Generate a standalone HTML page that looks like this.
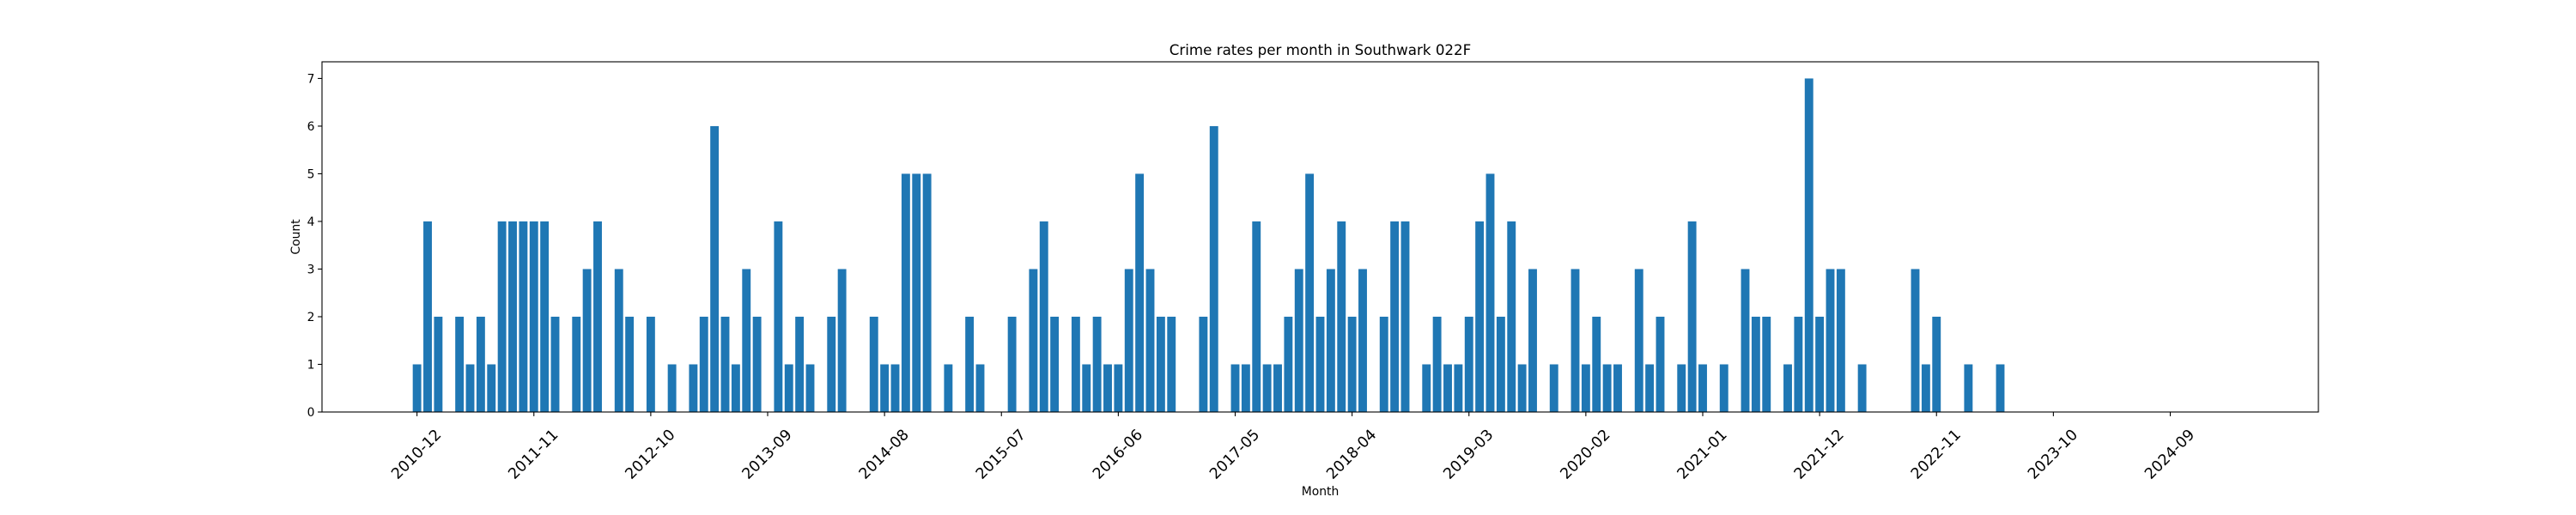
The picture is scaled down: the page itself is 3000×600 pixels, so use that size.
<!DOCTYPE html>
<html><head><meta charset="utf-8"><title>Crime rates per month in Southwark 022F</title>
<style>html,body{margin:0;padding:0;background:#fff;}svg{display:block;font-family:"DejaVu Sans","Liberation Sans",sans-serif;}</style>
</head><body>
<svg id="chart" width="3000" height="600" viewBox="0 0 3000 600" xmlns="http://www.w3.org/2000/svg">
<rect x="0" y="0" width="3000" height="600" fill="#fff"/>
<text x="1537.5" y="64" font-size="16.7" text-anchor="middle" fill="#000">Crime rates per month in Southwark 022F</text>
<g id="bars"></g>
<g id="yaxis"></g>
<g id="xaxis"></g>
<rect x="375" y="72" width="2325" height="408" fill="none" stroke="#000" stroke-width="1.1"/>
<text x="1537.5" y="577" font-size="13.9" text-anchor="middle" fill="#000">Month</text>
<text x="0" y="0" font-size="13.9" text-anchor="middle" fill="#000" transform="translate(349,276) rotate(-90)">Count</text>
</svg>
<script>
const startYear = 2010;
const startMonth = 12;
const counts = [1,4,2,0,2,1,2,1,4,4,4,4,4,2,0,2,3,4,0,3,2,0,2,0,1,0,1,2,6,2,
1,3,2,0,4,1,2,1,0,2,3,0,0,2,1,1,5,5,5,0,1,0,2,1,0,0,2,0,3,4,
2,0,2,1,2,1,1,3,5,3,2,2,0,0,2,6,0,1,1,4,1,1,2,3,5,2,3,4,2,3,
0,2,4,4,0,1,2,1,1,2,4,5,2,4,1,3,0,1,0,3,1,2,1,1,0,3,1,2,0,1,
4,1,0,1,0,3,2,2,0,1,2,7,2,3,3,0,1,0,0,0,0,3,1,2,0,0,1,0,0,1,
0,0,0,0,0,0,0,0,0,0,0,0,0,0,0,0,0,0,0,0,0];
const yTicks = [0,1,2,3,4,5,6,7];
const xTickLabels = ["2010-12","2011-11","2012-10","2013-09","2014-08","2015-07","2016-06","2017-05","2018-04","2019-03","2020-02","2021-01","2021-12","2022-11","2023-10","2024-09"];

const NS = "http://www.w3.org/2000/svg";
const L = 375, R = 2700, T = 72, B = 480;
const n = counts.length;
const barW = 0.8;
const dMin = -barW/2, dMax = n - 1 + barW/2;
const pad = (dMax - dMin) * 0.05;
const xMin = dMin - pad, xMax = dMax + pad;
const yMax = Math.max(...counts) * 1.05;
function xScale(v){ return L + (v - xMin) / (xMax - xMin) * (R - L); }
function yScale(v){ return B - v / yMax * (B - T); }
function mk(tag, attrs){ const e = document.createElementNS(NS, tag); for (const k in attrs) e.setAttribute(k, attrs[k]); return e; }

const gb = document.getElementById('bars');
counts.forEach((c, i) => {
  if (c <= 0) return;
  const x0 = xScale(i - barW/2), x1 = xScale(i + barW/2);
  const r = mk('rect', {x: x0, y: yScale(c), width: x1 - x0, height: yScale(0) - yScale(c), fill: '#1f77b4'});
  
  
  gb.appendChild(r);
});

const gy = document.getElementById('yaxis');
yTicks.forEach(t => {
  const y = yScale(t);
  const ln = mk('line', {x1: L - 4.9, x2: L, y1: y, y2: y, stroke: '#000', 'stroke-width': 1.1});
  
  
  gy.appendChild(ln);
  const tx = mk('text', {x: L - 8.5, y: y + 5, 'font-size': 13.9, 'text-anchor': 'end', fill: '#000'});
  tx.textContent = String(t);
  
  
  gy.appendChild(tx);
});

const gx = document.getElementById('xaxis');
xTickLabels.forEach((lab, k) => {
  const idx = k * 11;
  if (idx > xMax) return;
  const x = xScale(idx);
  if (x > R) return;
  const ln = mk('line', {x1: x, x2: x, y1: B, y2: B + 4.9, stroke: '#000', 'stroke-width': 1.1});
  
  
  gx.appendChild(ln);
  const tx = mk('text', {x: 0, y: 6, 'font-size': 17.5, 'text-anchor': 'middle', fill: '#000', transform: 'translate(' + (x - 1) + ',529) rotate(-45)'});
  tx.textContent = lab;
  
  
  gx.appendChild(tx);
});
</script>
</body></html>
